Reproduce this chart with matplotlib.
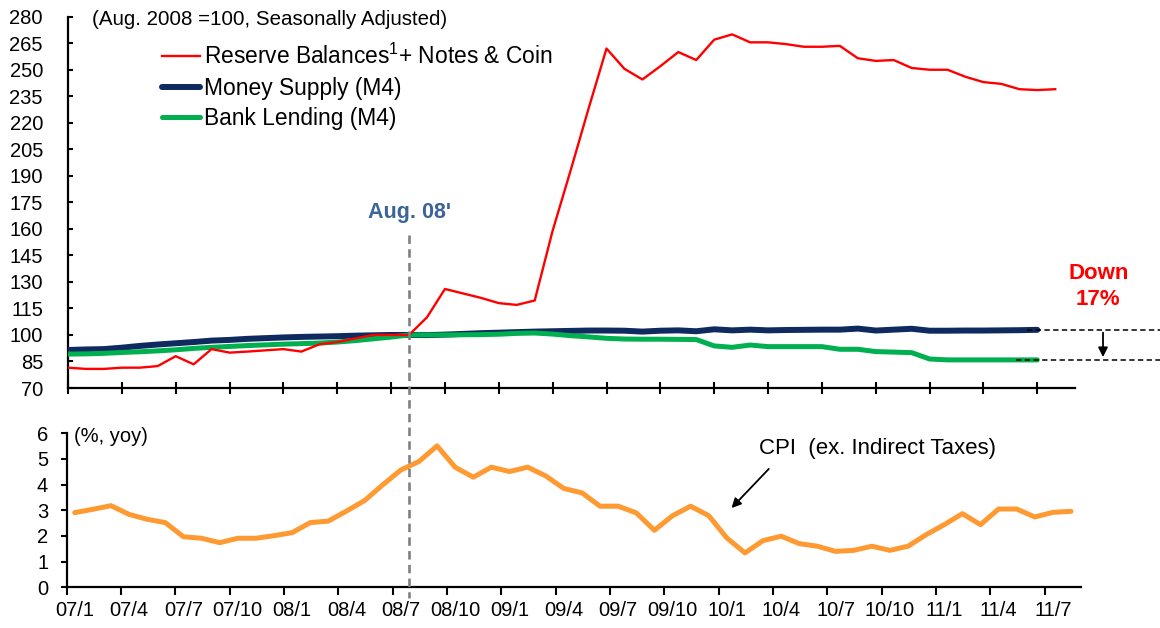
import matplotlib.pyplot as plt
from matplotlib.transforms import blended_transform_factory

plt.rcParams['font.family'] = ['Liberation Sans', 'DejaVu Sans']

# months since Jan 2007 (07/1 = 0)
reserves = [81.5, 80.8, 80.8, 81.5, 81.5, 82.4, 88, 83.4, 92, 90,
            90.6, 91.3, 92, 90.6, 94.7, 96, 98, 100, 100, 100,
            110, 126, 123.5, 121, 118, 117, 119.5, 159, 193, 228,
            262, 250.5, 244.5, 252, 260, 255.5, 267, 270, 265.5, 265.5,
            264.5, 263, 263, 263.5, 256.5, 255, 255.5, 251, 250, 250,
            246, 243, 242, 239, 238.5, 239]
money_m4 = [91.5, 91.8, 92, 92.8, 93.8, 94.6, 95.3, 96, 96.8, 97.2,
            97.8, 98.2, 98.6, 98.9, 99.1, 99.3, 99.6, 99.8, 100, 100,
            99.9, 100.2, 100.6, 101, 101.3, 101.6, 101.9, 102.1, 102.3, 102.5,
            102.5, 102.4, 101.9, 102.4, 102.6, 102.1, 103.2, 102.6, 103, 102.6,
            102.8, 102.9, 103, 103, 103.6, 102.5, 103, 103.5, 102.4, 102.4,
            102.5, 102.5, 102.6, 102.7, 102.9]
lending_m4 = [89.2, 89.3, 89.6, 90.1, 90.5, 91, 91.6, 92.4, 93, 93.5,
              94, 94.4, 94.8, 95.1, 95.4, 96, 96.8, 97.8, 98.8, 100,
              100, 100, 100.1, 100.2, 100.4, 100.9, 101.1, 100.5, 99.6, 98.9,
              98.1, 97.7, 97.6, 97.6, 97.5, 97.4, 93.8, 93.0, 94.3, 93.4,
              93.4, 93.4, 93.4, 91.9, 91.9, 90.6, 90.3, 90.0, 86.4, 85.9,
              85.9, 85.9, 85.9, 85.9, 85.9]
cpi = [2.91, 3.04, 3.18, 2.84, 2.65, 2.52, 1.97, 1.91, 1.74, 1.91,
       1.91, 2.01, 2.13, 2.52, 2.58, 2.97, 3.38, 3.99, 4.57, 4.9,
       5.51, 4.68, 4.29, 4.68, 4.51, 4.68, 4.34, 3.85, 3.68, 3.16,
       3.16, 2.9, 2.22, 2.79, 3.16, 2.79, 1.92, 1.34, 1.82, 1.99,
       1.7, 1.6, 1.4, 1.44, 1.6, 1.44, 1.6, 2.05, 2.44, 2.87,
       2.44, 3.05, 3.05, 2.74, 2.92, 2.96]

tick_months = list(range(0, 55, 3))
tick_labels = ['07/1', '07/4', '07/7', '07/10', '08/1', '08/4', '08/7', '08/10',
               '09/1', '09/4', '09/7', '09/10', '10/1', '10/4', '10/7', '10/10',
               '11/1', '11/4', '11/7']
top_yticks = list(range(70, 281, 15))
cpi_yticks = list(range(0, 7))
aug08 = 19

fig = plt.figure(figsize=(11.6, 6.28), dpi=100)
W, H = 1160, 628
ax = fig.add_axes([68 / W, 1 - 388 / H, (1075 - 68) / W, (388 - 16.7) / H])
ax2 = fig.add_axes([66.6 / W, 1 - 587.3 / H, (1081 - 66.6) / W, (587.3 - 433.3) / H])

# --- top panel ---
l1, = ax.plot(range(len(reserves)), reserves, color='#FF0000', lw=1.7,
              solid_joinstyle='round', zorder=4)
l2, = ax.plot(range(len(money_m4)), money_m4, color='#0F2A5E', lw=4.3,
              solid_capstyle='round', solid_joinstyle='round', zorder=3)
l3, = ax.plot(range(len(lending_m4)), lending_m4, color='#00B050', lw=3.6,
              solid_capstyle='round', solid_joinstyle='round', zorder=3)

ax.set_xlim(0, 56.1)
ax.set_ylim(70, 280)
ax.set_yticks(top_yticks)
ax.set_xticks(tick_months)
ax.set_xticklabels([])
ax.tick_params(axis='x', direction='inout', length=8.5, width=1.5)
ax.tick_params(axis='y', direction='in', length=3.6, width=1.5, pad=18, labelsize=14.5)
for s in ['top', 'right']:
    ax.spines[s].set_visible(False)
for s in ['left', 'bottom']:
    ax.spines[s].set_linewidth(1.6)

ax.text(1.32, 278.5, '(Aug. 2008 =100, Seasonally Adjusted)', fontsize=14.8,
        ha='left', va='center')

leg = ax.legend([l1, l2, l3],
                [r'Reserve Balances$^{\mathregular{1}}$+ Notes & Coin',
                 'Money Supply (M4)', 'Bank Lending (M4)'],
                loc='upper left', bbox_to_anchor=(162 / W, 1 - 44 / H),
                bbox_transform=fig.transFigure, frameon=False, fontsize=16.4,
                borderpad=0, borderaxespad=0, handlelength=1.68,
                handletextpad=0.15, labelspacing=0.33)

ax.text(aug08, 169, "Aug. 08'", color='#3C6496', fontsize=15.5, fontweight='bold',
        ha='center', va='center')

# Down 17% marker on the right
ax.plot([53.4, 62], [money_m4[-1], money_m4[-1]], color='black', lw=1.1,
        dashes=(3.5, 2.2), clip_on=False, zorder=5)
ax.plot([52.8, 62], [lending_m4[-1], lending_m4[-1]], color='black', lw=1.1,
        dashes=(3.5, 2.2), clip_on=False, zorder=5)
ax.annotate('', xy=(57.66, lending_m4[-1]), xytext=(57.66, money_m4[-1]),
            arrowprops=dict(arrowstyle='-|>', color='black', lw=1.3,
                            mutation_scale=14), annotation_clip=False)
ax.text(57.4, 134.5, 'Down', color='#FF0000', fontsize=16, fontweight='bold',
        ha='center', va='center', clip_on=False)
ax.text(57.4, 119.8, '17%', color='#FF0000', fontsize=16, fontweight='bold',
        ha='center', va='center', clip_on=False)

# vertical dashed line at Aug 08 across both panels
trans = blended_transform_factory(ax.transData, fig.transFigure)
fig.add_artist(plt.Line2D([aug08, aug08], [1 - 235 / H, 1 - 598 / H], transform=trans,
                          color='#808080', lw=1.9, dashes=(3.2, 2.0), zorder=1))

# --- bottom panel ---
cpi_x = [m + 0.45 for m in range(len(cpi))]
ax2.plot(cpi_x, cpi, color='#FF9A33', lw=3.6, solid_capstyle='round',
         solid_joinstyle='round')
ax2.set_xlim(0, 56)
ax2.set_ylim(0, 6)
ax2.set_yticks(cpi_yticks)
ax2.set_xticks(tick_months)
ax2.set_xticklabels([])
ax2.set_xticks([m + 0.45 for m in tick_months], minor=True)
ax2.set_xticklabels(tick_labels, minor=True)
ax2.tick_params(axis='x', which='major', direction='out', length=5.8, width=1.5)
ax2.tick_params(axis='x', which='minor', length=0, pad=10, labelsize=14.5)
ax2.tick_params(axis='y', direction='out', length=4.3, width=1.5, pad=9, labelsize=14.5)
for s in ['top', 'right']:
    ax2.spines[s].set_visible(False)
for s in ['left', 'bottom']:
    ax2.spines[s].set_linewidth(1.6)

ax2.text(0.41, 5.88, '(%, yoy)', fontsize=14.5, ha='left', va='center')
ax2.text(38.2, 5.39, 'CPI  (ex. Indirect Taxes)', fontsize=16, ha='left', va='center')
ax2.annotate('', xy=(36.6, 3.01), xytext=(38.87, 4.69),
             arrowprops=dict(arrowstyle='-|>', color='black', lw=1.3, mutation_scale=14))

fig.savefig('out.png', dpi=100)
